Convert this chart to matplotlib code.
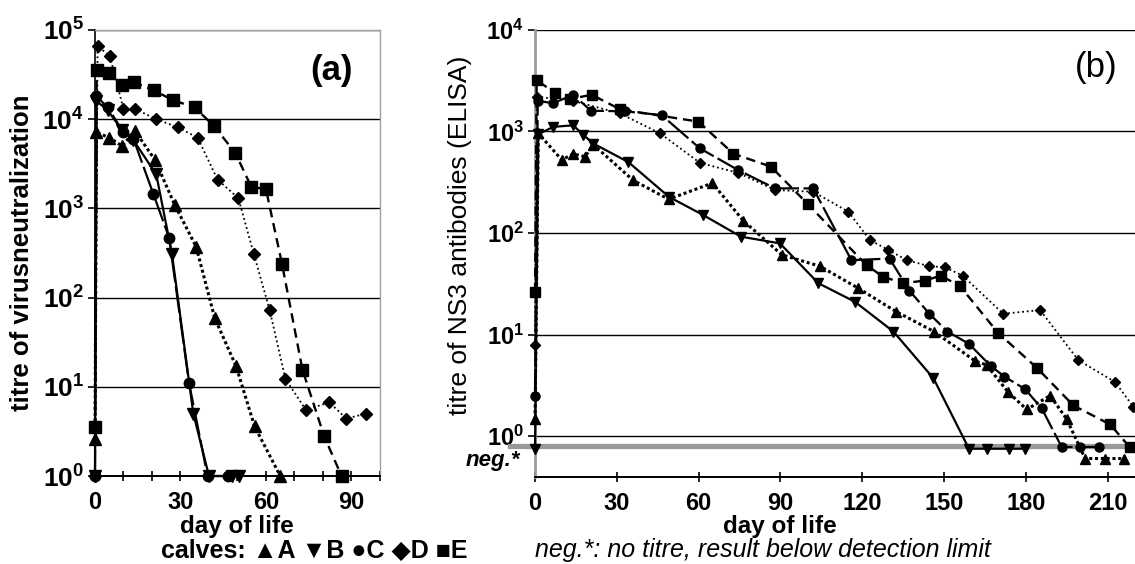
import matplotlib
matplotlib.use("Agg")
import matplotlib.pyplot as plt
from matplotlib.ticker import FixedLocator, NullLocator

plt.rcParams['font.family'] = ['Liberation Sans', 'DejaVu Sans']
plt.rcParams['mathtext.fontset'] = 'custom'
plt.rcParams['mathtext.rm'] = 'Liberation Sans'
plt.rcParams['mathtext.bf'] = 'Liberation Sans:bold'
plt.rcParams['mathtext.it'] = 'Liberation Sans:italic'

calves = ['A', 'B', 'C', 'D', 'E']

# (a) virus neutralization titres, day of life vs titre
vn_days = {
    'A': [0, 0.5, 5, 9.5, 14, 21, 28, 35.5, 42, 49.5, 56, 65],
    'B': [0, 0.5, 4.5, 9.5, 13.5, 21.5, 27, 34.5, 40, 48, 50.5],
    'C': [0, 0.5, 4.5, 10, 13.5, 20.5, 26, 33, 39.5, 46.5],
    'D': [0, 0.9, 5.2, 10, 14, 21.5, 29, 36, 43, 50.3, 55.7, 61.3, 66.8, 74, 82.2, 88.2, 95],
    'E': [0, 0.6, 4.9, 9.5, 13.6, 20.6, 27.4, 35, 41.7, 49.2, 54.8, 60, 65.6, 72.8, 80.4, 86.5],
}
vn_titre = {
    'A': [2.6, 7100, 6200, 5000, 7400, 3500, 1090, 370, 59, 17, 3.6, 1],
    'B': [1, 16000, 12500, 7500, 5800, 2400, 310, 5, 1, 1, 1],
    'C': [1, 18000, 13500, 7100, 6000, 1440, 470, 11, 1, 1],
    'D': [1, 66000, 51000, 13000, 13000, 10000, 8100, 6200, 2100, 1300, 310, 72, 12.3, 5.5, 6.7, 4.4, 5.0],
    'E': [3.5, 35500, 32500, 24000, 26000, 21000, 16300, 13500, 8400, 4200, 1750, 1630, 240, 15.5, 2.8, 1],
}

# (b) NS3 ELISA titres; values below 1 are "neg." (no titre)
ns3_days = {
    'A': [0, 1.2, 9.8, 14, 18.3, 21.4, 36, 49, 65, 76.4, 90.5, 104.5, 118.6, 132.4, 146.3,
          161.3, 165.6, 173.5, 180.3, 188.9, 195, 201.7, 209, 216],
    'B': [0, 1.2, 6.7, 14, 17.7, 21.4, 34.2, 49.1, 61.7, 75.5, 89.8, 103.9, 117.3, 131.4,
          146.1, 159.1, 165.9, 173.8, 179.7],
    'C': [0, 1, 6.7, 14, 20.5, 33, 46.4, 60.5, 74.6, 88, 102, 116, 130, 137.3, 144.6, 151.2,
          159.1, 167.1, 172.1, 179.7, 185.8, 193.1, 200, 206.9],
    'D': [0, 0.6, 14, 31, 45.8, 60.5, 74.6, 88, 102, 114.9, 122.8, 129.6, 136.3, 144.6,
          150.3, 156.8, 171.7, 185.2, 199.2, 212.7, 219.4],
    'E': [0, 0.6, 7.3, 12.8, 20.8, 31.2, 59.9, 72.7, 86.5, 100, 121.6, 127.7, 135, 143,
          148.8, 155.8, 169.9, 184, 197.4, 210.9, 218],
}
ns3_titre = {
    'A': [1.47, 960, 525, 600, 565, 740, 330, 215, 310, 132, 61, 47, 28.5, 16.8, 10.7,
          5.5, 5.0, 2.7, 1.83, 2.5, 1.46, 0.6, 0.6, 0.6],
    'B': [0.75, 940, 1110, 1150, 925, 760, 500, 227, 150, 92, 79, 32, 21, 10.7,
          3.7, 0.75, 0.75, 0.75, 0.75],
    'C': [2.5, 2000, 1900, 2300, 1600, 1580, 1450, 680, 415, 275, 275, 54, 56, 27, 16, 10.7,
          8.1, 4.9, 3.85, 2.9, 1.87, 0.78, 0.78, 0.78],
    'D': [7.8, 2200, 2000, 1510, 960, 490, 390, 265, 255, 162, 85, 68, 54, 47,
          46, 38, 16, 17.4, 5.6, 3.4, 1.94],
    'E': [26, 3200, 2400, 2090, 2300, 1650, 1250, 605, 450, 193, 48, 37, 32, 34,
          38, 30, 10.3, 4.7, 2.0, 1.3, 0.78],
}
neg_level = 0.8

vn_xticks = [0, 30, 60, 90]
ns3_xticks = [0, 30, 60, 90, 120, 150, 180, 210]

# line / marker look of each calf: (marker, linestyle, linewidth, size in a, size in b)
style = {
    'A': ('^', (0, (1, 0.9)), 2.2, 8, 7),
    'B': ('v', '-', 1.6, 8, 7),
    'C': ('o', (0, (12, 2)), 1.6, 7.5, 6.5),
    'D': ('D', (0, (1, 1.6)), 1.3, 6.5, 5.5),
    'E': ('s', (0, (4, 2.5)), 1.7, 8.5, 7),
}

fig = plt.figure(figsize=(11.35, 5.64), dpi=100)
ax_a = fig.add_axes([0.0837, 0.156, 0.2511, 0.791])
ax_b = fig.add_axes([0.4714, 0.1543, 0.5286, 0.7926])

for ax, days, titre, k in [(ax_a, vn_days, vn_titre, 3), (ax_b, ns3_days, ns3_titre, 4)]:
    for c in calves:
        m, ls, lw, ms_a, ms_b = style[c]
        ms = ms_a if k == 3 else ms_b
        ax.plot(days[c], titre[c], color='black', linestyle=ls, linewidth=lw,
                marker=m, markersize=ms, markerfacecolor='black',
                markeredgecolor='black', clip_on=False, zorder=3)
    ax.set_yscale('log')
    ax.yaxis.set_minor_locator(NullLocator())
    ax.grid(axis='y', which='major', color='black', linewidth=1.0)
    ax.set_axisbelow(True)

# panel (a)
ax_a.set_xlim(0, 100)
ax_a.set_ylim(1, 1e5)
ax_a.set_yticks([10 ** i for i in range(6)])
ax_a.set_yticklabels([r'$\mathbf{10^{%d}}$' % i for i in range(6)])
ax_a.set_xticks(vn_xticks)
ax_a.set_xticklabels([str(t) for t in vn_xticks])
ax_a.xaxis.set_minor_locator(FixedLocator(range(10, 101, 10)))
ax_a.tick_params(axis='x', which='both', direction='inout', length=7, width=1.2)
ax_a.tick_params(axis='x', which='major', pad=7, labelsize=17)
ax_a.tick_params(axis='y', direction='out', length=5, width=1.2, pad=3, labelsize=19)
for lab in ax_a.get_xticklabels():
    lab.set_fontweight('bold')
for s in ['top', 'right']:
    ax_a.spines[s].set_color('#a0a0a0')
    ax_a.spines[s].set_linewidth(1.0)
ax_a.spines['bottom'].set_linewidth(1.4)
ax_a.spines['left'].set_linewidth(1.2)
ax_a.text(0.83, 0.91, '(a)', transform=ax_a.transAxes, ha='center', va='center',
          fontsize=25, fontweight='bold')

# panel (b)
ax_b.set_xlim(0, 220)
ax_b.set_ylim(0.395, 1e4)
ax_b.set_yticks([10 ** i for i in range(5)])
ax_b.set_yticklabels([r'$\mathbf{10^{%d}}$' % i for i in range(5)])
ax_b.set_xticks(ns3_xticks)
ax_b.set_xticklabels([str(t) for t in ns3_xticks])
ax_b.tick_params(axis='x', direction='inout', length=7, width=1.2, pad=7, labelsize=17)
ax_b.tick_params(axis='y', direction='out', length=5, width=1.2, pad=3, labelsize=17)
for lab in ax_b.get_xticklabels():
    lab.set_fontweight('bold')
ax_b.spines['top'].set_visible(False)
ax_b.spines['right'].set_visible(False)
ax_b.spines['left'].set_color('#9a9a9a')
ax_b.spines['left'].set_linewidth(2.0)
ax_b.spines['bottom'].set_linewidth(1.4)
ax_b.axhline(neg_level, xmin=-0.042, xmax=1.0, color='#9a9a9a', linewidth=3.8,
             clip_on=False, zorder=2)
ax_b.text(-0.025, 0.58, 'neg.*', transform=ax_b.get_yaxis_transform(), ha='right',
          va='center', fontsize=16, fontweight='bold', fontstyle='italic')
ax_b.text(0.935, 0.917, '(b)', transform=ax_b.transAxes, ha='center', va='center',
          fontsize=25)

# axis titles and key
fig.text(0.0194, 0.5514, 'titre of virusneutralization', rotation=90, ha='center',
         va='center', fontsize=18.5, fontweight='bold')
fig.text(0.405, 0.583, 'titre of NS3 antibodies (ELISA)', rotation=90, ha='center',
         va='center', fontsize=19)
fig.text(0.2088, 0.066, 'day of life', ha='center', va='center', fontsize=17.5,
         fontweight='bold')
fig.text(0.687, 0.066, 'day of life', ha='center', va='center', fontsize=17.5,
         fontweight='bold')
fig.text(0.142, 0.024, 'calves: \u25b2A \u25bcB \u25cfC \u25c6D \u25a0E', ha='left',
         va='center', fontsize=18, fontweight='bold')
fig.text(0.4714, 0.024, 'neg.*: no titre, result below detection limit', ha='left',
         va='center', fontsize=18, fontstyle='italic')

fig.savefig('out.png', dpi=100)
